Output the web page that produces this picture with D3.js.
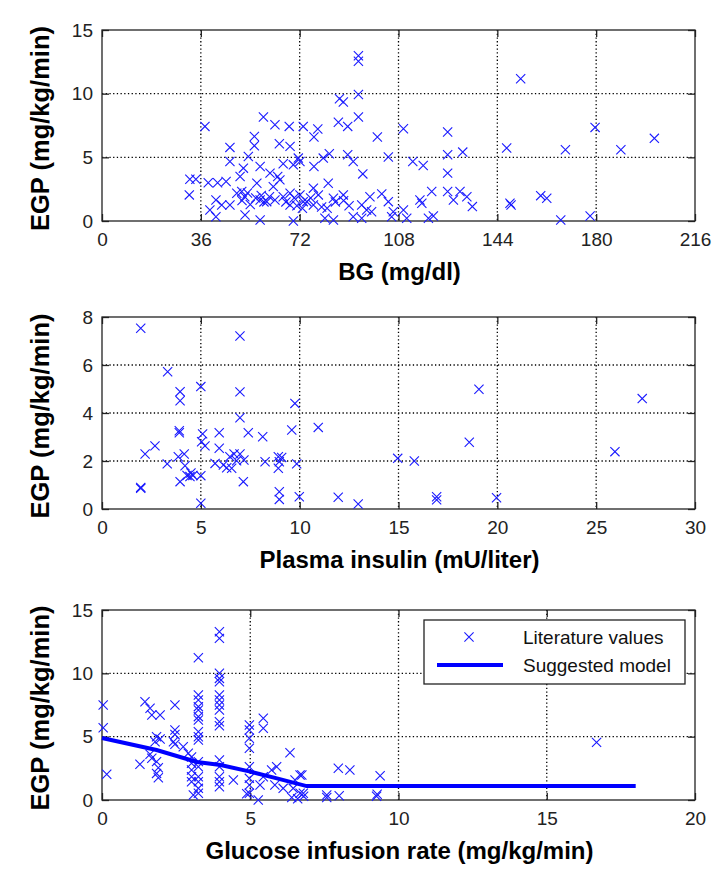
<!DOCTYPE html>
<html>
<head>
<meta charset="utf-8">
<script src="https://cdn.jsdelivr.net/npm/d3@7"></script>
<style>
  html, body { margin: 0; padding: 0; background: #fff; }
  svg { display: block; font-family: "Liberation Sans", Arial, Helvetica, sans-serif; }
</style>
</head>
<body>
<svg id="chart" width="724" height="885"></svg>
<script>
// EGP vs blood glucose (BG mg/dl, EGP mg/kg/min)
const bgPoints = [
  [37.5,7.43],[32,3.28],[34.2,3.28],[31.8,2.05],[38.7,3.0],[42.1,3.0],[45.2,3.1],[41.5,1.65],[39.3,0.87],[41.5,0.34],
  [46.6,5.78],[46.6,4.67],[55.5,6.64],[55.5,5.91],[58.8,8.17],[63,7.56],[68.2,7.43],[73.3,7.43],[64.6,6.07],[68.5,5.86],
  [53.3,5.07],[51.5,4.15],[57.6,4.28],[61.2,3.76],[66,4.49],[69.7,4.41],[71.5,4.94],[56.4,2.97],[64,3.49],[64.8,3.23],
  [50.3,3.49],[49.1,2.18],[50.9,2.31],[52,1.9],[53,2.2],[51,1.6],[54,1.3],[57.6,1.65],[60,1.52],[62.4,2.7],
  [63,1.65],[68.5,2.18],[72.1,2.05],[68.5,1.26],[73.3,1.52],[52.1,0.47],[57.6,0.08],[69.7,0],[46.6,1.26],[43.6,1.26],
  [93.4,12.98],[93.4,12.55],[93.4,9.93],[86.5,9.6],[87.9,9.35],[93.4,8.17],[86.1,7.75],[89.5,7.43],[78.6,7.22],[77.2,6.6],
  [100.3,6.6],[109.8,7.25],[125.9,6.99],[72.1,4.67],[77.2,4.28],[80.6,4.94],[82.8,5.28],[89.5,5.2],[91.5,4.67],[95,3.7],
  [104.3,5.02],[113.2,4.67],[117,4.36],[125.9,5.2],[131.4,5.41],[125.9,3.76],[77,2.58],[82.4,2.97],[78.8,2.05],[84.3,1.79],
  [87.9,2.05],[74.6,1.52],[77,1.26],[81.2,0.21],[84.3,0.08],[91.5,0.34],[94.6,1.26],[96.4,0.87],[98.2,0.73],[94.6,0.21],
  [97.6,1.91],[101.9,2.13],[104.3,1.52],[106.1,0.73],[105.5,0.34],[109.8,0.87],[111,0.21],[115.8,1.65],[116.5,1.39],[120.1,2.31],
  [118.9,0.21],[120.7,0.39],[125.9,2.31],[128,1.65],[130.4,2.31],[132.9,1.91],[134.9,1.13],[148.6,1.39],
  [152.5,11.17],[147.4,5.73],[168.8,5.6],[179.6,7.35],[189,5.6],[201.2,6.49],[149,1.26],[159.8,1.99],[162,1.79],[167.1,0.08],[177.8,0.39],
  [56,1.8],[58,2.0],[59,1.5],[61,1.9],[66,1.9],[67,1.5],[70,1.8],[71,1.2],[73,1.0],[76,1.8],[80,1.1],[82,1.0],[85,1.5],[88,1.6],[90,1.2]
]

// EGP vs plasma insulin (mU/liter)
const insulinPoints = [
  [1.96,7.53],[6.98,7.21],[3.32,5.72],[3.95,4.89],[3.95,4.51],[5.0,5.1],[6.98,4.88],[9.76,4.4],[6.98,3.8],[3.91,3.26],
  [3.91,3.18],[5.09,3.13],[5.04,2.8],[5.21,2.63],[5.93,3.18],[7.4,3.18],[8.13,3.01],[9.6,3.29],[2.68,2.63],[2.18,2.29],
  [3.3,1.88],[3.86,2.18],[4.16,2.29],[4.2,1.8],[4.5,1.5],[4.6,1.4],[4.3,1.4],[3.95,1.14],[4.45,1.35],[5.0,1.39],
  [5.72,1.9],[5.93,2.53],[6.14,1.83],[6.31,1.72],[6.47,2.18],[6.68,2.29],[6.81,2.01],[6.98,2.29],[7.18,2.04],[6.56,1.7],
  [7.15,1.14],[8.25,1.97],[8.92,2.18],[9.09,2.15],[8.97,1.97],[8.92,1.7],[8.97,0.72],[8.97,0.4],[9.98,0.51],[9.85,1.88],
  [1.96,0.86],[1.96,0.9],[5.0,0.24],[10.94,3.4],[11.95,0.49],[12.96,0.21],[14.96,2.11],[15.8,2.0],[16.93,0.51],[16.93,0.38],
  [19.07,4.99],[18.58,2.78],[19.96,0.47],[27.33,4.6],[25.95,2.39]
]

// EGP vs glucose infusion rate (mg/kg/min)
const girPoints = [
  [0.04,7.5],[0.04,5.71],[0.16,2.03],[1.45,7.76],[1.62,7.24],[1.68,6.71],[1.96,6.71],[2.46,7.5],[2.46,5.53],[2.46,5.18],
  [1.84,5.0],[1.96,4.82],[1.79,4.6],[1.62,3.61],[1.68,3.29],[1.28,2.82],[1.84,3.03],[1.9,2.55],[1.84,2.1],[1.9,1.76],
  [2.74,4.2],[2.91,3.69],[2.41,4.6],[2.46,4.4],
  [3.25,11.23],[3.25,8.29],[3.25,7.9],[3.25,7.37],[3.25,7.1],[3.25,6.58],[3.25,6.31],[3.25,5.39],[3.25,5.0],[3.25,4.74],
  [3.25,3.03],[3.25,2.63],[3.25,1.84],[3.25,1.44],[3.25,0.92],[3.25,0.53],
  [3.02,3.4],[3.02,2.9],[3.02,2.37],[3.02,1.84],[3.02,1.44],[3.08,0.39],
  [3.96,13.28],[3.96,12.76],[3.96,10.0],[3.96,9.6],[3.96,9.34],[3.96,8.29],[3.96,7.9],[3.96,7.5],[3.96,7.1],[3.96,6.18],
  [3.96,5.86],[3.96,3.16],[3.96,2.63],[3.96,1.84],[3.96,1.44],[3.96,1.05],
  [4.43,1.58],[4.97,5.92],[4.97,5.53],[4.97,4.87],[4.97,4.08],[4.97,2.63],[4.97,1.71],[4.97,1.18],[4.97,0.53],
  [5.44,6.45],[5.44,5.66],[5.44,1.84],[5.33,1.18],[5.72,2.37],[5.89,2.63],[6.34,3.73],[6.68,1.97],[6.51,1.58],[6.45,0.92],
  [6.68,0.53],[5.83,1.18],[6.11,0.92],[6.74,1.97],[6.79,0.53],[7.58,0.39],[8.0,0.34],[7.97,2.5],[8.36,2.37],[9.38,1.92],
  [9.28,0.45],[16.68,4.55],[4.88,0.5],[5.27,0.0],[6.4,0.2],[6.6,0.1],[6.8,0.3],[7.58,0.2],[9.26,0.3]
]

// suggested model curve
const modelX = [0, 1.84, 3.2, 4, 5, 5.9, 6.9, 18]
const modelY = [4.9, 3.95, 3.0, 2.76, 2.24, 1.71, 1.1, 1.1]

const bgTicks      = [0, 36, 72, 108, 144, 180, 216]
const egpTicks15   = [0, 5, 10, 15]
const insulinTicks = [0, 5, 10, 15, 20, 25, 30]
const egpTicks8    = [0, 2, 4, 6, 8]
const girTicks     = [0, 5, 10, 15, 20]

const legendLabels = ['Literature values', 'Suggested model']
const yTitle = 'EGP (mg/kg/min)'

const svg = d3.select('#chart')
const left = 102, right = 695
const BLUE = '#1a1aff'

const panels = [
  { top: 30,  bottom: 221, xDomain: [0, 216], yDomain: [0, 15], xTicks: bgTicks,      yTicks: egpTicks15, points: bgPoints,      xTitle: 'BG (mg/dl)' },
  { top: 317, bottom: 509, xDomain: [0, 30],  yDomain: [0, 8],  xTicks: insulinTicks, yTicks: egpTicks8,  points: insulinPoints, xTitle: 'Plasma insulin (mU/liter)' },
  { top: 610, bottom: 800, xDomain: [0, 20],  yDomain: [0, 15], xTicks: girTicks,     yTicks: egpTicks15, points: girPoints,     xTitle: 'Glucose infusion rate (mg/kg/min)', model: true },
]

function crossPath(s) { return `M${-s},${-s}L${s},${s}M${-s},${s}L${s},${-s}` }

panels.forEach(p => {
  const x = d3.scaleLinear().domain(p.xDomain).range([left, right])
  const y = d3.scaleLinear().domain(p.yDomain).range([p.bottom, p.top])
  const g = svg.append('g')

  // dotted grid
  const grid = g.append('g').attr('stroke', '#000').attr('stroke-width', 1.3).attr('stroke-dasharray', '1.3,2.4')
  p.xTicks.slice(1, -1).forEach(t => grid.append('line')
    .attr('x1', x(t)).attr('x2', x(t)).attr('y1', p.top).attr('y2', p.bottom))
  p.yTicks.slice(1, -1).forEach(t => grid.append('line')
    .attr('x1', left).attr('x2', right).attr('y1', y(t)).attr('y2', y(t)))

  // axes with inward ticks
  const styleAxis = sel => {
    sel.selectAll('.domain').remove()
    sel.selectAll('.tick line').attr('stroke', '#222').attr('stroke-width', 1.3)
    sel.selectAll('.tick text').attr('fill', '#222').attr('font-size', '19px')
  }
  g.append('g').attr('transform', `translate(0,${p.bottom})`)
    .call(d3.axisBottom(x).tickValues(p.xTicks).tickSizeInner(-7).tickSizeOuter(0).tickPadding(12))
    .call(styleAxis)
  g.append('g').attr('transform', `translate(${left},0)`)
    .call(d3.axisLeft(y).tickValues(p.yTicks).tickSizeInner(-7).tickSizeOuter(0).tickPadding(9))
    .call(styleAxis)
  g.append('g').attr('transform', `translate(0,${p.top})`)
    .call(d3.axisTop(x).tickValues(p.xTicks).tickSizeInner(-7).tickSizeOuter(0).tickFormat(''))
    .call(styleAxis)
  g.append('g').attr('transform', `translate(${right},0)`)
    .call(d3.axisRight(y).tickValues(p.yTicks).tickSizeInner(-7).tickSizeOuter(0).tickFormat(''))
    .call(styleAxis)

  g.append('rect')
    .attr('x', left).attr('y', p.top).attr('width', right - left).attr('height', p.bottom - p.top)
    .attr('fill', 'none').attr('stroke', '#222').attr('stroke-width', 1.3)

  // markers
  g.append('g').selectAll('path').data(p.points).enter().append('path')
    .attr('transform', d => `translate(${x(d[0])},${y(d[1])})`)
    .attr('d', crossPath(4.6))
    .attr('stroke', BLUE).attr('stroke-width', 1.1).attr('fill', 'none')

  if (p.model) {
    const modelData = modelX.map((v, i) => [v, modelY[i]])
    g.append('path').datum(modelData)
      .attr('d', d3.line().x(d => x(d[0])).y(d => y(d[1])))
      .attr('fill', 'none').attr('stroke', '#0000ff').attr('stroke-width', 4)

    // legend
    const lg = g.append('g')
    lg.append('rect').attr('x', 424).attr('y', 620).attr('width', 261).attr('height', 64)
      .attr('fill', '#fff').attr('stroke', '#222').attr('stroke-width', 1.3)
    lg.append('path').attr('transform', 'translate(469,637)').attr('d', crossPath(4.6))
      .attr('stroke', BLUE).attr('stroke-width', 1.1).attr('fill', 'none')
    lg.append('line').attr('x1', 437).attr('x2', 503).attr('y1', 665).attr('y2', 665)
      .attr('stroke', '#0000ff').attr('stroke-width', 4)
    lg.selectAll('text').data(legendLabels).enter().append('text')
      .attr('x', 523).attr('y', (d, i) => 644 + i * 28)
      .attr('font-size', '19px').attr('fill', '#111')
      .text(d => d)
  }

  // titles
  g.append('text')
    .attr('x', (left + right) / 2 + 1).attr('y', p.bottom + 59)
    .attr('text-anchor', 'middle').attr('font-size', '24px').attr('font-weight', 'bold').attr('fill', '#000')
    .text(p.xTitle)
  g.append('text')
    .attr('transform', `translate(49,${(p.top + p.bottom) / 2 + 3}) rotate(-90)`)
    .attr('text-anchor', 'middle').attr('font-size', '25.5px').attr('font-weight', 'bold').attr('fill', '#000')
    .text(yTitle)
})
</script>
</body>
</html>
